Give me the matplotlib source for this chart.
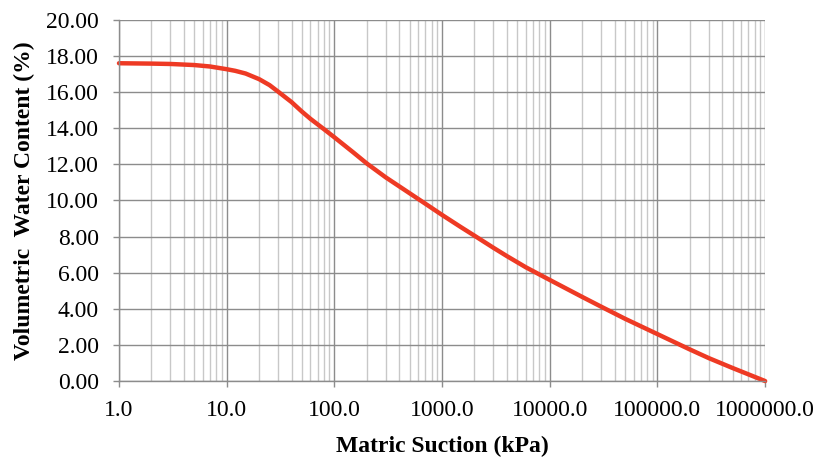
import matplotlib
matplotlib.use("Agg")
import matplotlib.pyplot as plt
from matplotlib.ticker import LogLocator, FixedLocator, NullFormatter

suction = [1, 2, 3, 5, 7, 10, 12, 15, 20, 25, 30, 40, 50, 60, 80, 100, 150, 200, 300,
           500, 700, 1000, 1500, 2000, 3000, 4000, 6000, 10000, 20000, 30000, 50000,
           100000, 200000, 300000, 500000, 1000000]
water = [17.6, 17.58, 17.56, 17.5, 17.42, 17.27, 17.18, 17.03, 16.72, 16.39, 16.03, 15.45,
         14.92, 14.52, 13.95, 13.5, 12.66, 12.05, 11.28, 10.4, 9.82, 9.2, 8.52, 8.05, 7.38,
         6.92, 6.3, 5.6, 4.66, 4.12, 3.45, 2.6, 1.75, 1.27, 0.72, 0.0]
xticks = [1, 10, 100, 1000, 10000, 100000, 1000000]
xticklabels = ["1.0", "10.0", "100.0", "1000.0", "10000.0", "100000.0", "1000000.0"]
yticks = [0, 2, 4, 6, 8, 10, 12, 14, 16, 18, 20]

plt.rcParams["font.family"] = ["Liberation Serif", "DejaVu Serif"]

fig = plt.figure(figsize=(8.15, 4.63), dpi=100)
ax = fig.add_axes([0.146, 0.177, 0.7928, 0.780])

ax.set_xscale("log")
ax.set_xlim(1, 1e6)
ax.set_ylim(0, 20)

ax.xaxis.set_major_locator(FixedLocator(xticks))
ax.set_xticklabels(xticklabels)
ax.xaxis.set_minor_locator(LogLocator(base=10, subs=range(2, 10), numticks=100))
ax.xaxis.set_minor_formatter(NullFormatter())
ax.set_yticks(yticks)
ax.set_yticklabels([f"{v:.2f}" for v in yticks])

ax.grid(which="major", axis="both", color="#8c8c8c", linewidth=1.0)
ax.grid(which="minor", axis="x", color="#c8c8c8", linewidth=1.0)
ax.set_axisbelow(True)

for s in ["top", "right"]:
    ax.spines[s].set_visible(False)
for s in ["left", "bottom"]:
    ax.spines[s].set_color("#8c8c8c")
    ax.spines[s].set_linewidth(1.0)

ax.tick_params(axis="both", which="major", direction="out", length=4.5, width=1,
               color="#8c8c8c", labelsize=17)
ax.tick_params(axis="x", which="minor", length=0)
ax.tick_params(axis="x", which="major", pad=9)
ax.tick_params(axis="y", which="major", pad=10)

ax.plot(suction, water, color="#ee3a24", linewidth=3.2, solid_capstyle="round",
        solid_joinstyle="round", clip_on=False)

ax.set_xlabel("Matric Suction (kPa)", fontsize=17, fontweight="bold", labelpad=11)
ax.set_ylabel("Volumetric  Water Content (%)", fontsize=17, fontweight="bold", labelpad=8)

fig.savefig("out.png", dpi=100)
